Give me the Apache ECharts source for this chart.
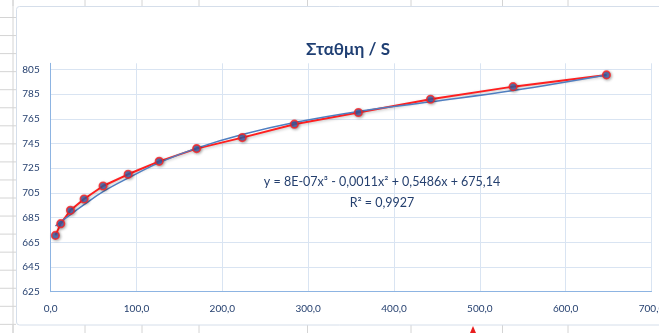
<!DOCTYPE html>
<html>
<head>
<meta charset="utf-8">
<script src="https://cdn.jsdelivr.net/npm/echarts@6/dist/echarts.min.js"></script>
<style>
  html, body { margin: 0; padding: 0; background: #ffffff; }
  #chart { width: 659px; height: 333px; }
</style>
</head>
<body>
<div id="chart"></div>
<script>
// Measured discharge (x) and stage (y)
const discharge = [5.5, 11.7, 23.0, 38.9, 61.0, 90.2, 126.4, 170.0, 223.2, 283.9, 358.5, 442.5, 538.7, 647.5];
const stage = [670.6, 680.1, 690.9, 700.1, 710.6, 720.1, 730.6, 740.9, 749.8, 760.7, 770.1, 780.9, 791.1, 800.6];

// Third-order polynomial trendline, sampled at the measured discharges
const trendStage = [678.2, 681.5, 687.5, 695.5, 706.0, 717.0, 729.5, 741.3, 752.3, 762.0, 771.0, 778.8, 788.0, 800.6];

const titleText = 'Σταθμη / S';
const equationText = 'y = 8E-07x³ - 0,0011x² + 0,5486x + 675,14';
const r2Text = 'R² = 0,9927';

const xTickValues = [0, 100, 200, 300, 400, 500, 600, 700];
const yTickValues = [625, 645, 665, 685, 705, 725, 745, 765, 785, 805];

const navy = '#243F6E';
const font = "Lato, 'Noto Sans', sans-serif";

const chart = echarts.init(document.getElementById('chart'), null, { renderer: 'canvas' });

// Worksheet backdrop: cell borders around the embedded chart
const sheetLines = [];
const colEdges = [13, 85, 142, 199, 307.5, 411, 502.5, 568];
colEdges.forEach(function (cx) {
  sheetLines.push({ type: 'line', silent: true, z: -10,
    shape: { x1: cx, y1: 0, x2: cx, y2: 6 }, style: { stroke: '#D4D4D4', lineWidth: 1 } });
  sheetLines.push({ type: 'line', silent: true, z: -10,
    shape: { x1: cx, y1: 325, x2: cx, y2: 333 }, style: { stroke: '#D4D4D4', lineWidth: 1 } });
});
sheetLines.push({ type: 'line', silent: true, z: -10,
  shape: { x1: 13, y1: 0, x2: 13, y2: 333 }, style: { stroke: '#D4D4D4', lineWidth: 1 } });
for (let ry = 17.5; ry < 333; ry += 18.05) {
  sheetLines.push({ type: 'line', silent: true, z: -10,
    shape: { x1: 0, y1: ry, x2: 16, y2: ry }, style: { stroke: '#D4D4D4', lineWidth: 1 } });
}
// Chart-area frame
sheetLines.push({ type: 'rect', silent: true, z: -9,
  shape: { x: 16.5, y: 6.5, width: 720, height: 318.5, r: 3 },
  style: { fill: '#FFFFFF', stroke: '#D5DEEA', lineWidth: 1 } });
// Comment marker in a cell below
sheetLines.push({ type: 'polygon', silent: true, z: -8,
  shape: { points: [[470, 333], [473, 326], [476, 333]] }, style: { fill: '#E81E1E' } });

const option = {
  animation: false,
  backgroundColor: '#FFFFFF',
  title: {
    text: titleText,
    left: 301,
    top: 36,
    textStyle: { fontFamily: font, fontSize: 17, fontWeight: 'bold', color: '#1F3F73' }
  },
  grid: {
    left: 50.7, right: 7.5, top: 63.3, bottom: 41.3,
    containLabel: false,
    outerBoundsMode: 'none'
  },
  xAxis: {
    type: 'value',
    min: 0,
    max: 700,
    interval: 100,
    axisLine: { show: true, lineStyle: { color: '#8DB4E2', width: 1 } },
    axisTick: { show: false },
    axisLabel: {
      margin: 12,
      hideOverlap: false,
      fontFamily: font, fontSize: 10, color: navy,
      formatter: function (v) {
        return xTickValues.indexOf(v) >= 0 ? v.toFixed(1).replace('.', ',') : '';
      }
    },
    splitLine: { show: true, lineStyle: { color: '#D9E4F2', width: 1 } }
  },
  yAxis: {
    type: 'value',
    min: 625,
    max: 810,
    interval: 20,
    axisLine: { show: true, lineStyle: { color: '#8DB4E2', width: 1 } },
    axisTick: { show: false },
    axisLabel: {
      margin: 11,
      fontFamily: font, fontSize: 10, color: navy,
      showMaxLabel: false,
      formatter: function (v) {
        return yTickValues.indexOf(v) >= 0 ? String(v) : '';
      }
    },
    splitLine: {
      show: true,
      lineStyle: {
        color: ['#D9E4F2', '#D9E4F2', '#D9E4F2', '#D9E4F2', '#D9E4F2', '#D9E4F2',
                '#D9E4F2', '#D9E4F2', '#D9E4F2', '#D9E4F2', 'rgba(0,0,0,0)'],
        width: 1
      }
    }
  },
  graphic: sheetLines.concat([
    { type: 'text', silent: true, z: 50, x: 382, y: 182,
      style: { text: equationText, fill: navy, font: '12.5px ' + font, align: 'center', verticalAlign: 'middle' } },
    { type: 'text', silent: true, z: 50, x: 382, y: 203,
      style: { text: r2Text, fill: navy, font: '12.5px ' + font, align: 'center', verticalAlign: 'middle' } }
  ]),
  series: [
    {
      name: 'Stage',
      type: 'line',
      z: 2,
      data: discharge.map(function (x, i) { return [x, stage[i]]; }),
      showSymbol: false,
      lineStyle: { color: '#FF1F1F', width: 2,
        shadowBlur: 3, shadowColor: 'rgba(0,0,0,0.25)', shadowOffsetX: 1, shadowOffsetY: 1 }
    },
    {
      name: 'Trend',
      type: 'line',
      z: 3,
      smooth: 0.4,
      data: discharge.map(function (x, i) { return [x, trendStage[i]]; }),
      showSymbol: false,
      lineStyle: { color: '#4F7EC0', width: 1.5 }
    },
    {
      name: 'Stage points',
      type: 'scatter',
      z: 4,
      data: discharge.map(function (x, i) { return [x, stage[i]]; }),
      symbol: 'circle',
      symbolSize: 7.5,
      itemStyle: {
        color: '#3F62AE', borderColor: '#FF2020', borderWidth: 1.6,
        shadowBlur: 3, shadowColor: 'rgba(0,0,0,0.35)', shadowOffsetX: 1, shadowOffsetY: 1
      }
    }
  ]
};

chart.setOption(option);
</script>
</body>
</html>
